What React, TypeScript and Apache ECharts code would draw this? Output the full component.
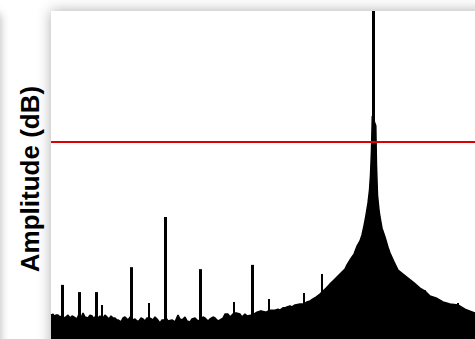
import React, { useEffect, useRef } from "react";
import * as echarts from "echarts";

// Frequency bins (arbitrary units, 0..424) and noise-floor amplitude in dB
const noiseFloor: [number, number][] = [
  [0, -92.7], [2, -92.4], [3, -93.0], [5, -92.7], [7, -92.7], [9, -93.3], [11, -93.0],
  [13, -93.6], [15, -93.3], [17, -92.7], [19, -93.6], [21, -93.0], [23, -93.3], [26, -93.9],
  [28, -92.4], [30, -93.6], [32, -92.1], [34, -93.3], [37, -93.6], [39, -92.7], [41, -93.0],
  [43, -93.9], [45, -92.7], [47, -93.6], [49, -93.0], [52, -93.6], [54, -92.7], [56, -93.3],
  [58, -93.9], [60, -93.0], [62, -93.6], [64, -93.6], [66, -94.2], [67, -94.2], [70, -94.8],
  [72, -93.6], [74, -93.3], [77, -94.2], [80, -93.0], [82, -94.2], [84, -93.9], [86, -94.5],
  [88, -94.5], [90, -93.6], [92, -93.9], [94, -94.5], [96, -93.6], [99, -93.6], [102, -94.2],
  [104, -93.3], [106, -93.9], [109, -95.1], [111, -94.2], [113, -94.2], [115, -93.6],
  [117, -94.5], [121, -94.2], [124, -94.8], [127, -92.7], [129, -93.9], [131, -94.2],
  [134, -93.3], [136, -94.5], [139, -94.8], [141, -93.9], [144, -93.6], [147, -94.5],
  [149, -94.2], [152, -93.3], [154, -93.6], [157, -94.5], [159, -93.9], [162, -93.3],
  [164, -93.6], [167, -94.5], [169, -94.2], [172, -93.6], [174, -92.4], [177, -92.4],
  [179, -93.3], [183, -92.1], [186, -92.1], [189, -92.4], [191, -93.3], [194, -92.4],
  [196, -93.0], [201, -92.7], [203, -92.4], [206, -91.8], [209, -91.5], [211, -91.5],
  [215, -91.8], [219, -91.2], [222, -91.2], [224, -91.2], [227, -90.9], [229, -91.2],
  [232, -90.5], [234, -90.5], [236, -90.2], [239, -89.9], [241, -90.2], [244, -89.6],
  [249, -89.3], [253, -89.3], [256, -88.7], [259, -88.4], [262, -87.8], [265, -87.2],
  [269, -86.3], [271, -85.7], [275, -84.5], [279, -83.2], [282, -82.3], [284, -81.7],
  [289, -80.2], [294, -78.7], [296, -77.4], [299, -75.9], [301, -75.0], [303, -74.1],
  [306, -71.7], [309, -70.1], [311, -68.3], [313, -65.5], [315, -62.2], [317, -58.5],
  [318.5, -54.6], [319.5, -50.0], [320.5, -42.4], [321.3, -32.0],
  [324.8, -35.0], [325.5, -47.0], [326.5, -56.1], [328, -60.7], [329, -62.8], [331, -66.2],
  [334, -68.9], [337, -72.0], [339, -73.8], [343, -76.5], [347, -79.0], [352, -80.2],
  [357, -81.4], [363, -82.9], [369, -84.5], [374, -85.4], [379, -86.9], [385, -87.5],
  [392, -88.7], [399, -89.3], [407, -89.6], [414, -90.9], [419, -91.5], [424, -92.1],
];

// Spurious tones: [bin, amplitude dB, drawn width]
const spurs: [number, number, number][] = [
  [11, -83.5, 3], [28, -85.7, 3], [45, -85.7, 3], [51, -89.6, 2], [80, -78.1, 3],
  [98, -89.0, 2], [114, -62.8, 3], [149, -78.7, 3], [183, -88.7, 2], [201, -77.4, 3],
  [218, -87.8, 2], [253, -86.0, 2], [271, -80.2, 2], [374, -85.1, 2], [407, -89.0, 2],
];

// Carrier: [bin, amplitude dB]
const carrier: [number, number] = [322.5, 0];

const threshold = -40;
const yMin = -100;
const yMax = 0;
const xMin = 0;
const xMax = 424;

export default function App() {
  const ref = useRef<HTMLDivElement>(null);
  useEffect(() => {
    if (!ref.current) return;
    const chart = echarts.init(ref.current, undefined, { renderer: "svg" });
    const lineData: any[] = spurs.map(([f, a, w]) => [
      { coord: [f, yMin], lineStyle: { width: w, color: "#000", type: "solid" } },
      { coord: [f, a] },
    ]);
    lineData.push([
      { coord: [carrier[0], yMin], lineStyle: { width: 3, color: "#000", type: "solid" } },
      { coord: [carrier[0], carrier[1]] },
    ]);
    lineData.push({
      yAxis: threshold,
      lineStyle: { color: "#dd0000", width: 2, type: "solid" },
    });
    chart.setOption({
      animation: false,
      backgroundColor: "#fff",
      grid: { left: 51, top: 11, right: 0, bottom: 0, containLabel: false },
      xAxis: {
        type: "value", min: xMin, max: xMax,
        axisLine: { show: false }, axisTick: { show: false },
        axisLabel: { show: false }, splitLine: { show: false },
      },
      yAxis: {
        type: "value", min: yMin, max: yMax,
        axisLine: { show: false }, axisTick: { show: false },
        axisLabel: { show: false }, splitLine: { show: false },
      },
      graphic: [
        {
          type: "rect", z: -10,
          shape: { x: 51, y: 11, width: 480, height: 400 },
          style: { fill: "#fff", shadowBlur: 14, shadowColor: "rgba(0,0,0,0.32)" },
        },
        {
          type: "rect", z: -10,
          shape: { x: -60, y: 14, width: 60, height: 400 },
          style: { fill: "#fff", shadowBlur: 10, shadowColor: "rgba(0,0,0,0.3)" },
        },
        {
          type: "text", z: 10,
          x: 30, y: 179, rotation: Math.PI / 2,
          style: {
            text: "Amplitude (dB)",
            fill: "#000",
            font: "bold 26px 'Liberation Sans', Arial, sans-serif",
            textAlign: "center",
            textVerticalAlign: "middle",
          },
        },
      ],
      series: [
        {
          type: "line",
          data: noiseFloor,
          symbol: "none",
          lineStyle: { color: "#000", width: 1.5 },
          areaStyle: { color: "#000", opacity: 1, origin: "start" },
          markLine: {
            silent: true,
            symbol: ["none", "none"],
            label: { show: false },
            data: lineData,
          },
        },
      ],
    });
    return () => chart.dispose();
  }, []);
  return (
    <div
      ref={ref}
      style={{ position: "fixed", left: 0, top: 0, width: 475, height: 339 }}
    />
  );
}
